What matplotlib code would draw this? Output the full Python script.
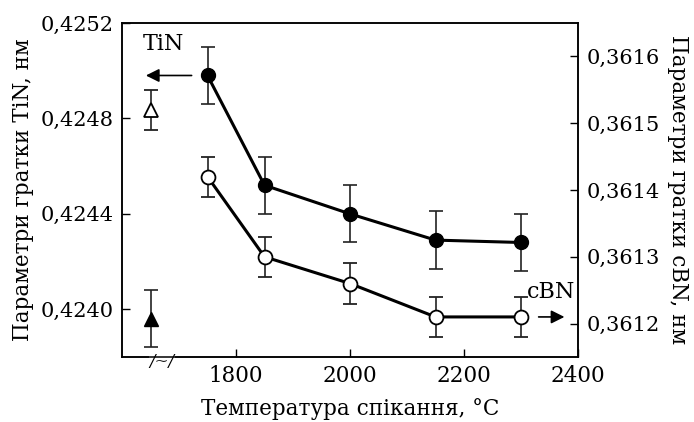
import matplotlib
matplotlib.use("Agg")
import matplotlib.pyplot as plt
from matplotlib.ticker import FuncFormatter

plt.rcParams["font.family"] = ["DejaVu Serif"]
plt.rcParams["mathtext.fontset"] = "dejavuserif"

# sintering temperature, C
temps = [1750, 1850, 2000, 2150, 2300]
# TiN lattice parameter, nm (left axis) and its error
tin = [0.42498, 0.42452, 0.42440, 0.42429, 0.42428]
tin_err = [0.00012, 0.00012, 0.00012, 0.00012, 0.00012]
# cBN lattice parameter, nm (right axis) and its error
cbn = [0.36142, 0.36130, 0.36126, 0.36121, 0.36121]
cbn_err = [0.00003, 0.00003, 0.00003, 0.00003, 0.00003]
# initial powders (plotted left of the axis break)
init_x = [1650]
tin_init = [0.42396]
cbn_init = [0.36152]

left_ticks = [0.4240, 0.4244, 0.4248, 0.4252]
right_ticks = [0.3612, 0.3613, 0.3614, 0.3615, 0.3616]
x_ticks = [1800, 2000, 2200, 2400]

fig = plt.figure(figsize=(6.94, 4.22), dpi=100)
ax = fig.add_axes([0.1758, 0.154, 0.6571, 0.7915])
ax2 = ax.twinx()

comma = FuncFormatter(lambda v, p: f"{v:.4f}".replace(".", ","))
eb = dict(ecolor="#222", elinewidth=1.2, capsize=5, capthick=1.2)

ax.errorbar(temps, tin, yerr=tin_err, color="black", lw=2.2, marker="o",
            ms=10, mfc="black", mec="black", zorder=3, **eb)
ax.errorbar(init_x, tin_init, yerr=[0.00012], fmt="^", color="black", ms=10,
            **eb)

ax2.errorbar(temps, cbn, yerr=cbn_err, color="black", lw=2.2, marker="o",
             ms=10, mfc="white", mec="black", mew=1.3, zorder=3, **eb)
ax2.errorbar(init_x, cbn_init, yerr=[0.00003], fmt="^", color="black", ms=10,
             mfc="white", mew=1.3, **eb)

ax.set_xlim(1600, 2400)
ax.set_ylim(0.4238, 0.4252)
ax2.set_ylim(0.36115, 0.36165)
ax.set_xticks(x_ticks)
ax.set_yticks(left_ticks)
ax2.set_yticks(right_ticks)
ax.yaxis.set_major_formatter(comma)
ax2.yaxis.set_major_formatter(comma)

for a in (ax, ax2):
    a.tick_params(direction="in", length=6, width=1, labelsize=15, pad=6)
    for s in a.spines.values():
        s.set_linewidth(1.1)
ax.tick_params(axis="x", labelsize=15.5, pad=6)
ax.tick_params(axis="y", right=False)

ax.set_xlabel("Температура спікання, °C", fontsize=15.5, labelpad=8)
ax.set_ylabel("Параметри гратки TiN, нм", fontsize=15.5, labelpad=5)
ax2.set_ylabel("Параметри гратки cBN, нм", fontsize=15.5, rotation=270,
               labelpad=21)

# series labels with arrows pointing to their axes
ax.annotate("", xy=(1637, tin[0]), xytext=(1727, tin[0]),
            arrowprops=dict(arrowstyle="-|>", color="black", lw=1.2,
                            mutation_scale=20))
ax.text(1636, 0.42511, "TiN", fontsize=16, ha="left", va="center")
ax2.annotate("", xy=(2381, cbn[-1]), xytext=(2326, cbn[-1]),
             arrowprops=dict(arrowstyle="-|>", color="black", lw=1.2,
                             mutation_scale=20))
ax2.text(2311, 0.361248, "cBN", fontsize=16, ha="left", va="center")

# axis break mark on the x axis
ax.text(1670, 0.42378, "/~/", fontsize=12, ha="center", va="center",
        style="italic", clip_on=False,
        bbox=dict(fc="white", ec="none", pad=0.2))

fig.savefig("out.png", dpi=100, facecolor="white")
